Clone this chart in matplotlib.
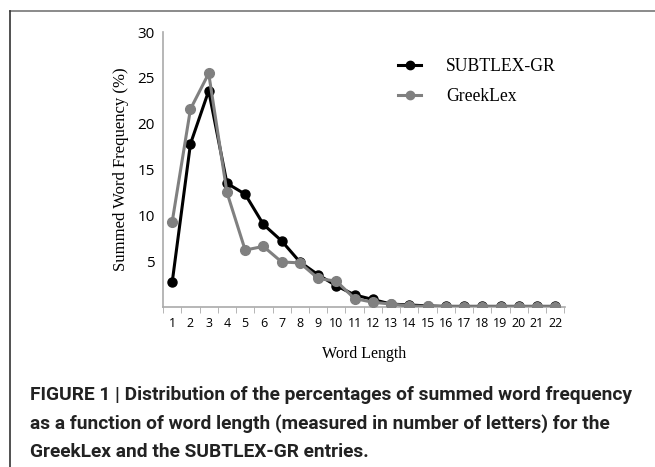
import matplotlib
matplotlib.use("Agg")
from matplotlib import pyplot as plt
from matplotlib.lines import Line2D

word_length = list(range(1, 23))
subtlex = [2.7, 17.8, 23.6, 13.5, 12.3, 9.0, 7.2, 4.9, 3.5, 2.3, 1.3, 0.8,
           0.3, 0.2, 0.1, 0.05, 0.05, 0.05, 0.05, 0.05, 0.05, 0.05]
greeklex = [9.3, 21.6, 25.5, 12.5, 6.2, 6.6, 4.9, 4.8, 3.1, 2.8, 0.9, 0.5,
            0.3, 0.1, 0.05, 0.02, 0.02, 0.02, 0.02, 0.02, 0.02, 0.02]
y_ticks = [5, 10, 15, 20, 25, 30]

fig = plt.figure(figsize=(6.55, 4.67), dpi=100)

# frame around the figure panel
fig.add_artist(Line2D([10/655, 1.0], [1 - 11/467, 1 - 11/467], color="#777777", lw=1.2))
fig.add_artist(Line2D([10/655, 10/655], [1 - 11/467, 0.0], color="#333333", lw=1.2))

ax = fig.add_axes([0.249, 0.343, 0.614, 0.588])
gray = "#808080"
ax.plot(word_length, subtlex, color="black", lw=2.2, marker="o", ms=6.5, zorder=3)
ax.plot(word_length, greeklex, color=gray, lw=2.2, marker="o", ms=7, zorder=4)

ax.set_xlim(0.5, 22.55)
ax.set_ylim(0, 30)
ax.set_yticks(y_ticks)
ax.set_xticks(word_length)
ax.set_xticks([x + 0.5 for x in range(0, 23)], minor=True)
ax.tick_params(axis="x", which="major", length=0, pad=7, labelsize=9)
ax.tick_params(axis="x", which="minor", length=4, color="#aaaaaa", direction="out")
ax.tick_params(axis="y", length=0, pad=6, labelsize=11)
for lab in ax.get_xticklabels() + ax.get_yticklabels():
    lab.set_family("Open Sans")
for side in ["top", "right"]:
    ax.spines[side].set_visible(False)
for side in ["left", "bottom"]:
    ax.spines[side].set_color("#aaaaaa")
    ax.spines[side].set_linewidth(1.2)

ax.set_ylabel("Summed Word Frequency (%)", family="Liberation Serif", fontsize=12, labelpad=6)
ax.set_xlabel("Word Length", family="Liberation Serif", fontsize=11.5, labelpad=12)

handles = [Line2D([], [], color="black", lw=2.2, marker="o", ms=6),
           Line2D([], [], color=gray, lw=2.2, marker="o", ms=6)]
ax.legend(handles, ["SUBTLEX-GR", "GreekLex"], loc="upper left",
          bbox_to_anchor=(0.545, 0.965), frameon=False, handlelength=1.3,
          handletextpad=1.4, labelspacing=0.75,
          prop={"family": "Liberation Serif", "size": 12.7})

caption = ("FIGURE 1 | Distribution of the percentages of summed word frequency\n"
           "as a function of word length (measured in number of letters) for the\n"
           "GreekLex and the SUBTLEX-GR entries.")
fig.text(30/655, 1 - 386/467, caption, ha="left", va="top", fontsize=13.8,
         fontweight="bold", family=["Liberation Sans Narrow", "Roboto"],
         color="#222222", linespacing=1.7)

fig.savefig("out.png", dpi=100)
